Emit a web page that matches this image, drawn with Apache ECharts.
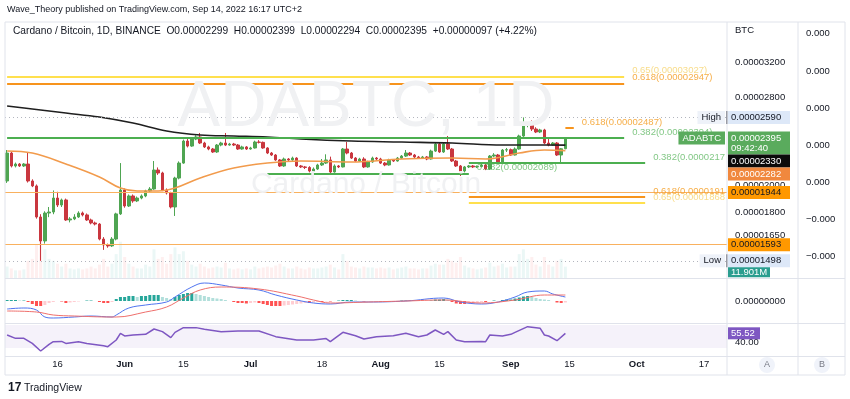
<!DOCTYPE html>
<html>
<head>
<meta charset="utf-8">
<script src="https://cdn.jsdelivr.net/npm/echarts/dist/echarts.min.js"></script>
<style>
    body{margin:0;background:#fff;}
    #chart{width:850px;height:399px;}
</style>
</head>
<body>
<div id="chart"></div>
<script>
// ADA/BTC daily, prices in satoshi (1e-8 BTC)
var firstDay = '2022-05-04';
var dayCount = 172;

// [open, close, low, high]
var ohlc = [
    [2032,2261,2017,2287],[2261,2152,2140,2270],[2152,2168,2140,2180],[2168,2152,2144,2176],[2152,2168,2144,2176],
    [2168,2032,2020,2270],[2032,1994,1985,2045],[1994,1771,1760,2005],[1771,1616,1498,1790],[1616,1798,1600,1810],
    [1798,1805,1770,1840],[1805,1904,1790,1960],[1904,1854,1840,1950],[1854,1890,1840,1900],[1890,1751,1745,1900],
    [1751,1758,1735,1770],[1758,1771,1750,1790],[1771,1798,1765,1810],[1798,1785,1775,1808],[1785,1751,1745,1795],
    [1751,1731,1722,1760],[1731,1724,1715,1740],[1724,1628,1620,1730],[1628,1592,1562,1640],[1592,1586,1575,1600],
    [1586,1628,1580,1640],[1628,1792,1620,1800],[1792,1963,1785,2176],[1963,1847,1835,1975],[1847,1919,1840,1930],
    [1919,1883,1870,1930],[1883,1904,1875,1915],[1904,1919,1895,1930],[1919,1956,1910,1965],[1956,1971,1945,1985],
    [1971,2119,1965,2193],[2119,2095,2080,2140],[2095,1963,1955,2105],[1963,1941,1930,1975],[1941,1840,1830,1950],
    [1840,2055,1778,2065],[2055,2176,2045,2190],[2176,2367,2170,2380],[2367,2322,2310,2390],[2322,2385,2315,2395],
    [2385,2404,2375,2420],[2404,2349,2340,2441],[2349,2314,2305,2360],[2314,2296,2285,2325],[2296,2270,2262,2305],
    [2270,2331,2262,2340],[2331,2349,2320,2360],[2349,2331,2322,2441],[2331,2340,2325,2350],[2340,2331,2322,2350],
    [2331,2296,2288,2340],[2296,2314,2290,2325],[2314,2296,2288,2322],[2296,2305,2290,2315],[2305,2358,2300,2370],
    [2358,2355,2345,2375],[2355,2305,2298,2362],[2305,2261,2252,2312],[2261,2244,2236,2270],[2244,2202,2195,2252],
    [2202,2152,2144,2210],[2152,2210,2145,2222],[2210,2202,2190,2218],[2202,2218,2195,2230],[2218,2152,2144,2225],
    [2152,2144,2135,2160],[2144,2140,2127,2152],[2140,2111,2100,2150],[2111,2127,2105,2140],[2127,2160,2120,2170],
    [2160,2176,2152,2210],[2176,2202,2168,2250],[2202,2103,2095,2230],[2103,2152,2098,2165],[2152,2144,2135,2160],
    [2144,2296,2140,2305],[2296,2261,2250,2358],[2261,2218,2210,2270],[2218,2193,2185,2226],[2193,2210,2185,2220],
    [2210,2144,2135,2225],[2144,2185,2138,2195],[2185,2218,2178,2230],[2218,2210,2200,2227],[2210,2176,2168,2220],
    [2176,2160,2150,2185],[2160,2202,2155,2212],[2202,2193,2185,2210],[2193,2218,2188,2227],[2218,2235,2210,2244],
    [2235,2261,2227,2287],[2261,2244,2236,2270],[2244,2227,2218,2253],[2227,2218,2210,2236],[2218,2227,2210,2236],
    [2227,2210,2200,2235],[2210,2278,2205,2290],[2278,2340,2270,2350],[2340,2270,2262,2350],[2270,2340,2262,2350],
    [2340,2296,2287,2413],[2296,2193,2185,2305],[2193,2152,2144,2202],[2152,2111,2071,2160],[2111,2144,2100,2152],
    [2144,2152,2135,2160],[2152,2144,2135,2160],[2144,2148,2135,2156],[2148,2160,2140,2168],[2160,2127,2118,2168],
    [2127,2235,2120,2244],[2235,2244,2225,2260],[2244,2185,2176,2253],[2185,2287,2180,2296],[2287,2290,2270,2305],
    [2290,2244,2236,2300],[2244,2296,2240,2310],[2296,2413,2290,2425],[2413,2516,2405,2590],[2516,2520,2495,2545],
    [2520,2478,2460,2560],[2478,2450,2440,2495],[2450,2469,2440,2480],[2469,2349,2340,2480],[2349,2331,2320,2385],
    [2331,2349,2325,2358],[2349,2244,2236,2358],[2244,2298,2176,2305],[2299,2395,2294,2399]
];

// volume, millions
var volume = [
    12,10,8,8,9,18,20,35,45,30, 20,18,15,12,15,10,9,10,9,10, 12,10,14,20,12,15,25,38,22,15,
    12,10,10,14,12,30,20,22,15,25, 32,25,28,18,14,12,15,12,10,11, 12,11,16,10,9,10,9,10,9,12,
    10,11,12,11,13,15,12,10,10,12, 10,9,11,10,10,11,12,14,11,9, 25,18,12,11,10,12,11,11,10,11,
    10,11,9,10,11,12,10,10,9,10, 10,13,15,14,14,20,18,16,22,13, 11,10,9,10,11,16,12,13,15,11,
    12,12,25,30,20,22,14,12,22,14, 12,18,20,11.901
];

// moving averages read at sample days: [dayIndex, price]
var ma200 = [[0,2705],[6,2675],[14,2634],[22,2594],[30,2535],[38,2459],[46,2422],[54,2413],[62,2404],
    [70,2385],[82,2367],[94,2358],[106,2349],[118,2331],[126,2331],[133,2330]];
var ema50 = [[0,2279],[6,2261],[14,2168],[22,2063],[27,1978],[31,1956],[36,1956],[40,1978],[46,2055],
    [54,2135],[62,2176],[70,2193],[82,2185],[94,2210],[106,2218],[114,2210],[122,2261],[128,2287],[133,2282]];

// MACD (units of 0.1 sat)
var macdLine = [[0,-80],[4,-70],[7,-90],[9,-160],[11,-170],[16,-160],[20,-150],[25,-160],[26,-140],[29,-70],
    [33,-40],[38,-10],[40,40],[44,140],[47,180],[51,160],[55,130],[60,110],[64,60],[69,10],[73,-20],[77,-30],
    [82,-10],[86,-10],[95,0],[104,30],[108,-10],[113,-30],[117,-10],[121,40],[124,90],[128,100],[130,70],[133,40]];
var signalLine = [[0,-100],[7,-110],[11,-140],[16,-150],[25,-160],[26,-160],[33,-110],[38,-60],[42,30],[46,110],
    [51,140],[60,120],[69,50],[73,10],[77,-20],[86,-10],[95,0],[104,10],[113,-20],[121,10],[128,60],[133,60]];
var macdHist = [
    10,10,10,5,5,-10,-30,-50,-50,-40, -20,-10,0,-5,-20,-15,-10,-5,0,5, 5,0,-10,-20,-20,-10,20,40,40,50,
    50,40,50,50,60,60,60,40,30,20, 40,60,70,80,80,70,60,50,40,30, 25,20,10,0,-10,-20,-20,-25,-20,-15,
    -20,-30,-40,-50,-50,-50,-45,-40,-35,-30, -25,-20,-20,-15,-10,-10,-5,-5,0,5, 10,10,10,5,0,-5,0,0,0,-5,
    -5,0,0,0,5,5,5,0,0,0, 0,5,15,15,20,15,-10,-25,-30,-30, -25,-20,-15,-10,-10,0,5,0,10,15,
    15,25,35,45,50,40,30,20,15,10, 0,-15,-20,-15
];

// RSI(14)
var rsi = [[0,52.6],[2,46.8],[4,46.8],[6,38.1],[8,24.8],[10,36.4],[11,41],[13,41.5],[14,38],[17,41],[19,38],
    [23,34],[24,32.3],[26,43.9],[27,55.5],[28,50.9],[30,52.6],[33,53.7],[35,63],[37,58.4],[39,48],[40,57.2],
    [42,65.4],[45,65.4],[47,62.4],[51,58.4],[55,59.6],[60,59.6],[64,49.7],[69,43.9],[73,43.9],[76,46.3],[77,41],
    [80,57.2],[83,51.4],[85,45.6],[88,49.7],[92,51.4],[95,55.5],[98,49.7],[100,52.6],[102,61.3],[104,53.7],
    [105,58.4],[107,43.9],[109,41],[113,41.5],[114,41],[115,52.6],[118,50.9],[120,53.7],[121,57.2],[124,67.1],
    [127,64.2],[128,52.6],[129,50.9],[131,42.7],[133,55.52]];

// fib levels
var fibRatio = ['0.65','0.618','0.382','0.618','0.382','0.382','0.618','0.65'];
var fibPrice = [3027,2947,2394,2487,2176,2089,1912,1868];
var fibFrom  = ['2022-05-04','2022-05-04','2022-05-04','2022-09-14','2022-08-22','2022-07-05','2022-08-22','2022-08-22'];
var fibTo    = ['2022-09-28','2022-09-28','2022-09-28','2022-09-16','2022-10-03','2022-08-22','2022-10-03','2022-10-03'];
var alertLines = [1944, 1593];

var priceTicks = [3200, 2800, 2000, 1800, 1650];
var sideTicks = [0.0004, 0.0003, 0.0002, 0.0001, 0, -0.0001, -0.0002];
var dateTicks = ['2022-05-16','2022-06-01','2022-06-15','2022-07-01','2022-07-18','2022-08-01','2022-08-15','2022-09-01','2022-09-15','2022-10-01','2022-10-17'];
var dateText  = ['16','Jun','15','Jul','18','Aug','15','Sep','15','Oct','17'];

// ---------------------------------------------------------------
var UP = '#4fa552', DOWN = '#c9373f';
var FONT = '"Liberation Sans", Arial, sans-serif';
var AX = 9.5;
var fibColor = {'0.65': '#ffe04d', '0.618': '#f7941d', '0.382': '#4caf50'};
var fibText = {'0.65': 'rgba(243,196,60,0.6)', '0.618': 'rgba(245,160,40,0.85)', '0.382': 'rgba(76,175,80,0.7)'};

var dates = [];
var t0 = new Date(firstDay + 'T00:00:00Z').getTime();
for (var k = 0; k < dayCount; k++) {
    dates.push(new Date(t0 + k * 86400000).toISOString().slice(0, 10));
}

var volData = volume.map(function (v, i) {
    var up = ohlc[i][1] >= ohlc[i][0];
    return {value: v, itemStyle: {color: up ? 'rgba(38,166,154,0.09)' : 'rgba(239,83,80,0.09)'}};
});
var histData = macdHist.map(function (v, i) {
    var prev = i > 0 ? macdHist[i - 1] : 0;
    var c;
    if (v >= 0) c = v >= prev ? '#26a69a' : '#b2dfdb';
    else c = v <= prev ? '#ff5252' : '#ffcdd2';
    return {value: v, itemStyle: {color: c}};
});

var fibLines = [];
for (var f = 0; f < fibPrice.length; f++) {
    fibLines.push([
        {coord: [fibFrom[f], fibPrice[f]], lineStyle: {color: fibColor[fibRatio[f]], width: 2, type: 'solid'}},
        {coord: [fibTo[f], fibPrice[f]]}
    ]);
}
alertLines.forEach(function (p) {
    fibLines.push({yAxis: p, lineStyle: {color: '#f9b15e', width: 1, type: 'solid'}});
});
var hi = Math.max.apply(null, ohlc.map(function (d) { return d[3]; }));
var lo = Math.min.apply(null, ohlc.map(function (d) { return d[2]; }));
fibLines.push({yAxis: hi, lineStyle: {color: '#b2b5be', width: 1, type: [1, 3]}});
fibLines.push({yAxis: lo, lineStyle: {color: '#b2b5be', width: 1, type: [1, 3]}});

function xAxisFor(gi, showLabels) {
    return {
        type: 'category', gridIndex: gi, data: dates,
        axisLine: {show: false}, axisTick: {show: false}, splitLine: {show: false},
        axisLabel: showLabels ? {
            show: true, margin: 3, color: '#131722', fontSize: AX, fontFamily: FONT,
            interval: function (idx, val) { return dateTicks.indexOf(val) >= 0; },
            formatter: function (val) {
                var s = dateText[dateTicks.indexOf(val)];
                return /^[A-Z]/.test(s) ? '{b|' + s + '}' : s;
            },
            rich: {b: {fontWeight: 'bold', fontSize: AX, fontFamily: FONT, color: '#131722'}}
        } : {show: false}
    };
}

var chart = echarts.init(document.getElementById('chart'));
chart.setOption({
    animation: false,
    backgroundColor: '#ffffff',
    grid: [
        {left: 5, top: 22, width: 722, height: 256, outerBoundsMode: 'none'},
        {left: 5, top: 279, width: 722, height: 44, outerBoundsMode: 'none'},
        {left: 5, top: 324, width: 722, height: 32, outerBoundsMode: 'none'}
    ],
    xAxis: [xAxisFor(0, false), xAxisFor(1, false), xAxisFor(2, true)],
    yAxis: [
        {type: 'log', gridIndex: 0, min: 1403, max: 3729, show: false},
        {type: 'value', gridIndex: 0, min: -0.000259, max: 0.000432, show: false},
        {type: 'value', gridIndex: 0, min: 0, max: 268, show: false},
        {type: 'value', gridIndex: 1, min: -220, max: 220, show: false},
        {type: 'value', gridIndex: 2, min: 16.1, max: 71.7, show: false}
    ],
    series: [
        {
            type: 'bar', xAxisIndex: 0, yAxisIndex: 2, data: volData, barWidth: 3, silent: true, z: 1
        },
        {
            type: 'candlestick', xAxisIndex: 0, yAxisIndex: 0, data: ohlc, barWidth: 3, z: 3,
            itemStyle: {color: UP, color0: DOWN, borderColor: UP, borderColor0: DOWN, borderWidth: 1},
            markLine: {
                silent: true, symbol: 'none', animation: false,
                label: {show: false}, emphasis: {disabled: true},
                data: fibLines
            }
        },
        {
            type: 'line', xAxisIndex: 0, yAxisIndex: 0, data: ma200, smooth: 0.4, showSymbol: false, z: 4,
            lineStyle: {color: '#1f1f1f', width: 1.6}
        },
        {
            type: 'line', xAxisIndex: 0, yAxisIndex: 0, data: ema50, smooth: 0.4, showSymbol: false, z: 4,
            lineStyle: {color: '#f29b4c', width: 1.6}
        },
        {
            type: 'bar', xAxisIndex: 1, yAxisIndex: 3, data: histData, barWidth: 3
        },
        {
            type: 'line', xAxisIndex: 1, yAxisIndex: 3, data: macdLine, smooth: 0.4, showSymbol: false,
            lineStyle: {color: '#4f74f0', width: 1}
        },
        {
            type: 'line', xAxisIndex: 1, yAxisIndex: 3, data: signalLine, smooth: 0.4, showSymbol: false,
            lineStyle: {color: '#ef6f6c', width: 1}
        },
        {
            type: 'line', xAxisIndex: 2, yAxisIndex: 4, data: rsi, showSymbol: false,
            lineStyle: {color: '#7e57c2', width: 1.5},
            markArea: {
                silent: true,
                itemStyle: {color: 'rgba(126,87,194,0.08)'},
                data: [[{yAxis: 30}, {yAxis: 70}]]
            }
        }
    ]
});

// ---- overlay: texts, badges, panes ----
function py(v) { return chart.convertToPixel({yAxisIndex: 0}, v); }
function px(d) { return chart.convertToPixel({xAxisIndex: 0}, d); }
function fmt(v) { return (v / 1e8).toFixed(8); }

var g = [];
function text(x, y, s, color, size, opt) {
    opt = opt || {};
    g.push({
        type: 'text', x: x, y: y, z: opt.z || 60, silent: true,
        style: {
            text: s, fill: color, font: (opt.bold ? 'bold ' : '') + size + 'px ' + FONT,
            align: opt.align || 'left', verticalAlign: 'middle',
            textAlign: opt.align || 'left', textVerticalAlign: 'middle',
            width: opt.width, overflow: opt.width ? 'truncate' : undefined, ellipsis: ''
        }
    });
}
function rect(x, y, w, h, color, z, r) {
    g.push({type: 'rect', z: z || 60, silent: true, shape: {x: x, y: y, width: w, height: h, r: r || 0}, style: {fill: color}});
}
function line(x1, y1, x2, y2, color, z) {
    g.push({type: 'line', z: z || 70, silent: true, shape: {x1: x1, y1: y1, x2: x2, y2: y2}, style: {stroke: color, lineWidth: 1}});
}

// watermark
text(366, 108, 'ADABTC, 1D', '#f0f1f3', 64, {align: 'center', z: 0});
text(366, 185, 'Cardano / Bitcoin', '#f0f1f3', 30, {align: 'center', z: 0});

// header / legend / footer
text(7, 10, 'Wave_Theory published on TradingView.com, Sep 14, 2022 16:17 UTC+2', '#131722', 9);
var last = ohlc[ohlc.length - 1], prevClose = ohlc[ohlc.length - 2][1];
var chg = last[1] - prevClose;
text(13, 31, 'Cardano / Bitcoin, 1D, BINANCE  O' + fmt(last[0]) + '  H' + fmt(last[3]) + '  L' + fmt(last[2]) +
    '  C' + fmt(last[1]) + '  +' + fmt(chg) + ' (+' + (chg / prevClose * 100).toFixed(2) + '%)', '#131722', 10.2);
text(8, 388, '17', '#131722', 12, {bold: true});
text(24, 388, 'TradingView', '#131722', 10.5);

// frame and separators
var FR = '#e0e3eb';
line(5, 22, 845, 22, FR); line(5, 375, 845, 375, FR);
line(5, 22, 5, 375, FR); line(845, 22, 845, 375, FR);
line(727, 22, 727, 375, FR); line(798, 22, 798, 375, FR);
line(5, 278.5, 845, 278.5, FR); line(5, 323.5, 845, 323.5, FR); line(5, 356.5, 845, 356.5, FR);

// fib labels
for (var f2 = 0; f2 < fibPrice.length; f2++) {
    var lx = px(fibTo[f2]) + 8;
    text(lx, py(fibPrice[f2]) - 6, fibRatio[f2] + '(' + fmt(fibPrice[f2]) + ')', fibText[fibRatio[f2]], AX,
        {z: 5, width: 727 - lx});
}

// price axis ticks
text(735, 30, 'BTC', '#131722', AX);
priceTicks.forEach(function (p) { text(735, py(p), fmt(p), '#131722', AX, {z: 55}); });
sideTicks.forEach(function (v) {
    text(806, chart.convertToPixel({yAxisIndex: 1}, v), v.toFixed(3).replace('-', '\u2212'), '#131722', AX);
});

// price badges stacked on the axis
var badges = [
    {v: hi, lines: [fmt(hi)], bg: '#dde8f8', fg: '#131722', tag: 'High'},
    {v: last[1], lines: [fmt(last[1]), '09:42:40'], bg: '#5aab5d', fg: '#ffffff', tag: 'ADABTC', tagBg: '#5aab5d', tagFg: '#ffffff'},
    {v: ma200[ma200.length - 1][1], lines: [fmt(ma200[ma200.length - 1][1])], bg: '#0b0b0b', fg: '#ffffff'},
    {v: ema50[ema50.length - 1][1], lines: [fmt(ema50[ema50.length - 1][1])], bg: '#f0883e', fg: '#ffffff'},
    {v: alertLines[0], lines: [fmt(alertLines[0])], bg: '#ff9800', fg: '#131722'},
    {v: alertLines[1], lines: [fmt(alertLines[1])], bg: '#ff9800', fg: '#131722'},
    {v: lo, lines: [fmt(lo)], bg: '#dde8f8', fg: '#131722', tag: 'Low'}
];
var bottom = 0;
badges.forEach(function (b) {
    var top = Math.max(py(b.v) - 6.5, bottom);
    var h = 13 * b.lines.length - (b.lines.length - 1) * 3;
    rect(728, top, 62, h, b.bg, 60);
    b.lines.forEach(function (s, j) { text(731, top + 6.5 + j * 10, s, b.fg, AX, {z: 61}); });
    if (b.tag) {
        g.push({
            type: 'text', x: 725, y: top + 6.5, z: 61, silent: true,
            style: {
                text: b.tag, fill: b.tagFg || '#131722', font: AX + 'px ' + FONT,
                align: 'right', verticalAlign: 'middle', textAlign: 'right', textVerticalAlign: 'middle',
                backgroundColor: b.tagBg || '#eef2f9', padding: [2, 4, 1, 4]
            }
        });
        if (!b.tagBg) rect(726, top, 1.5, 13, '#50535e', 62);
    }
    bottom = top + h;
});
// volume badge
var vTop = Math.max(chart.convertToPixel({yAxisIndex: 2}, volume[volume.length - 1]) - 5, bottom);
rect(728, vTop, 42, 10, '#2a9d8f', 60);
text(731, vTop + 5, volume[volume.length - 1].toFixed(3) + 'M', '#ffffff', AX, {z: 61});

// MACD / RSI labels
text(735, chart.convertToPixel({yAxisIndex: 3}, 0), '0.00000000', '#131722', AX);
text(735, chart.convertToPixel({yAxisIndex: 4}, 40), '40.00', '#131722', AX, {z: 55});
var rsiLast = rsi[rsi.length - 1][1];
var ry = chart.convertToPixel({yAxisIndex: 4}, rsiLast);
rect(728, ry - 6, 32, 12, '#7e57c2', 60);
text(731, ry, rsiLast.toFixed(2), '#ffffff', AX, {z: 61});

// A / B buttons on the time axis
[['A', 767], ['B', 822]].forEach(function (ab) {
    g.push({type: 'circle', z: 60, silent: true, shape: {cx: ab[1], cy: 365, r: 8}, style: {fill: '#f0f3fa'}});
    text(ab[1], 365, ab[0], '#787b86', 9, {align: 'center', z: 61});
});

chart.setOption({graphic: g});
</script>
</body>
</html>
